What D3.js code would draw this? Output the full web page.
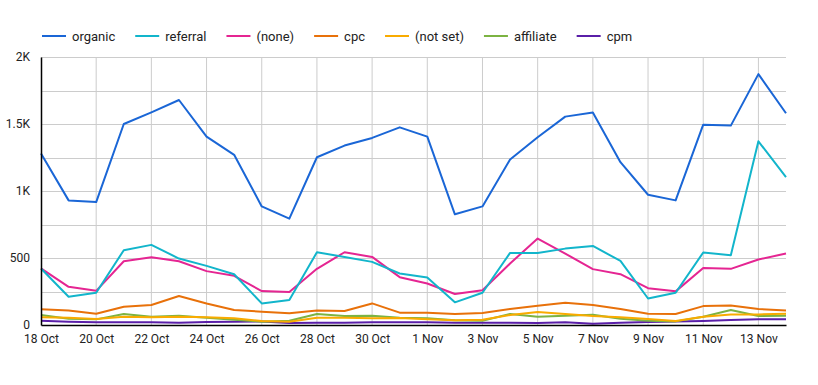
<!DOCTYPE html>
<html>
<head>
<meta charset="utf-8">
<script src="https://cdn.jsdelivr.net/npm/d3@7"></script>
<style>
  html, body { margin: 0; padding: 0; background: #fff; }
  svg { display: block; font-family: Roboto, "Noto Sans", sans-serif; }
</style>
</head>
<body>
<svg id="chart" width="818" height="385"></svg>
<script>
'use strict';

// days from 18 Oct to 14 Nov
var START = new Date(2020, 9, 18);
var DAY_COUNT = 28;

var SERIES_NAMES = ['organic', 'referral', '(none)', 'cpc', '(not set)', 'affiliate', 'cpm'];
var SERIES_COLORS = ['#1a66d6', '#12b5cb', '#e52592', '#e8710a', '#f9ab00', '#7cb342', '#5a1fa8'];

var organic = [1280, 930, 917, 1500, 1587, 1679, 1406, 1270, 885, 794, 1252, 1339, 1396, 1475,
  1406, 826, 885, 1235, 1401, 1555, 1585, 1215, 972, 930, 1495, 1488, 1872, 1580];
var referral = [422, 211, 241, 558, 598, 496, 441, 379, 161, 186, 543, 508, 471, 384,
  355, 169, 241, 538, 538, 570, 590, 478, 198, 241, 541, 521, 1371, 1103];
var none = [422, 285, 255, 476, 506, 476, 402, 367, 253, 246, 419, 543, 508, 357,
  310, 231, 260, 459, 645, 533, 417, 379, 275, 251, 426, 419, 489, 533];
var cpc = [117, 109, 84, 136, 149, 216, 161, 112, 99, 87, 109, 104, 161, 92,
  92, 82, 89, 119, 144, 166, 149, 119, 84, 82, 141, 146, 119, 109];
var notSet = [57, 54, 45, 62, 57, 62, 57, 50, 30, 25, 54, 54, 50, 52,
  42, 35, 40, 74, 97, 82, 67, 57, 45, 30, 62, 79, 79, 84];
var affiliate = [74, 47, 42, 82, 62, 69, 54, 40, 25, 32, 82, 67, 69, 54,
  50, 35, 32, 82, 62, 69, 77, 47, 32, 27, 62, 112, 67, 69];
var cpm = [32, 25, 20, 20, 20, 17, 22, 25, 27, 15, 17, 17, 20, 20,
  20, 17, 17, 17, 15, 20, 10, 17, 22, 27, 30, 37, 42, 42];

var Y_TICKS = [0, 500, 1000, 1500, 2000];
var Y_TICK_LABELS = ['0', '500', '1K', '1.5K', '2K'];
var Y_GRID = [250, 750, 1250, 1750];

var dates = d3.range(DAY_COUNT).map(function (i) { return d3.timeDay.offset(START, i); });
var seriesValues = [organic, referral, none, cpc, notSet, affiliate, cpm];

var margin = { left: 41, right: 32, top: 57, bottom: 60 };
var width = 818, height = 385;

var svg = d3.select('#chart');

var x = d3.scaleTime()
  .domain([dates[0], dates[dates.length - 1]])
  .range([margin.left, width - margin.right]);
var y = d3.scaleLinear()
  .domain([0, 2000])
  .range([height - margin.bottom, margin.top]);

var grid = svg.append('g').attr('class', 'grid');
var xTicks = dates.filter(function (d, i) { return i % 2 === 0; });

grid.selectAll('line.v')
  .data(xTicks.slice(1))
  .enter().append('line')
  .attr('class', 'v')
  .attr('x1', function (d) { return x(d); })
  .attr('x2', function (d) { return x(d); })
  .attr('y1', y(2000))
  .attr('y2', y(0))
  .style('stroke', '#cccccc')
  .style('stroke-width', 1);

grid.selectAll('line.h')
  .data(Y_TICKS.slice(1).concat(Y_GRID))
  .enter().append('line')
  .attr('class', 'h')
  .attr('x1', margin.left)
  .attr('x2', width - margin.right)
  .attr('y1', function (d) { return Math.round(y(d)) + 0.5; })
  .attr('y2', function (d) { return Math.round(y(d)) + 0.5; })
  .style('stroke', '#cccccc')
  .style('stroke-width', 1);

var line = d3.line()
  .x(function (d, i) { return x(dates[i]); })
  .y(function (d) { return y(d); });

// draw from the back so organic stays on top
for (var s = seriesValues.length - 1; s >= 0; s--) {
  svg.append('path')
    .datum(seriesValues[s])
    .attr('d', line)
    .style('fill', 'none')
    .style('stroke', SERIES_COLORS[s])
    .style('stroke-width', 2)
    .style('stroke-linejoin', 'round');
}

// axes
var xAxis = d3.axisBottom(x)
  .tickValues(xTicks)
  .tickSize(0)
  .tickPadding(9)
  .tickFormat(d3.timeFormat('%-d %b'));
var xg = svg.append('g')
  .attr('transform', 'translate(0,' + y(0) + ')')
  .call(xAxis);
xg.select('.domain').style('stroke', '#000').style('stroke-width', 1.5);
xg.selectAll('text').style('font-size', '12px').style('fill', '#222')
  .style('font-family', 'Roboto, sans-serif');

var yAxis = d3.axisLeft(y)
  .tickValues(Y_TICKS)
  .tickSize(0)
  .tickPadding(11)
  .tickFormat(function (d, i) { return Y_TICK_LABELS[i]; });
var yg = svg.append('g')
  .attr('transform', 'translate(' + margin.left + ',0)')
  .call(yAxis);
yg.select('.domain').style('stroke', '#000').style('stroke-width', 1.5);
yg.selectAll('text').style('font-size', '12px').style('fill', '#222')
  .style('font-family', 'Roboto, sans-serif');

// legend
var legend = svg.append('g').attr('transform', 'translate(42,36)');
var lx = 0;
SERIES_NAMES.forEach(function (name, i) {
  legend.append('line')
    .attr('x1', lx).attr('x2', lx + 24)
    .attr('y1', 0).attr('y2', 0)
    .style('stroke', SERIES_COLORS[i])
    .style('stroke-width', 2);
  var t = legend.append('text')
    .attr('x', lx + 30)
    .attr('y', 0)
    .attr('dy', '0.35em')
    .style('font-size', '13px')
    .style('fill', '#222')
    .text(name);
  lx += 30 + t.node().getComputedTextLength() + 20;
});
</script>
</body>
</html>
